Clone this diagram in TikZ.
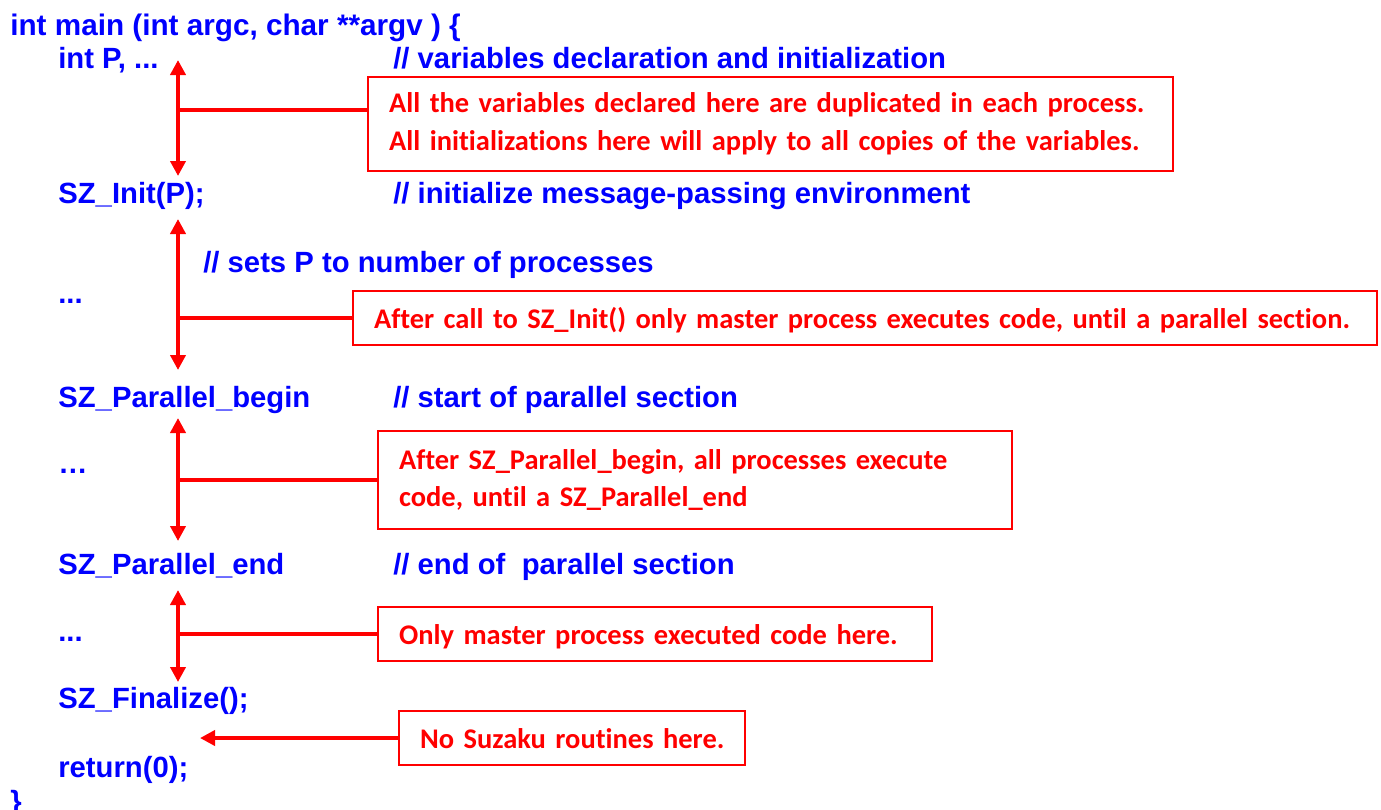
\documentclass[tikz,border=0pt]{standalone}
\usepackage{fontspec}
\setmainfont{Liberation Sans}
\newfontfamily\notefont[Ligatures=NoCommon]{Carlito}
\usetikzlibrary{arrows.meta, positioning}
\definecolor{codeblue}{RGB}{0,0,255}
\definecolor{notered}{RGB}{255,0,0}
\tikzset{
  code/.style={anchor=base west, inner sep=0pt, text=codeblue, font=\fontsize{16.65}{19}\selectfont\bfseries},
  note/.style={draw=notered, line width=1.2pt, text=notered, font=\notefont\fontsize{16.2}{21.4}\selectfont\bfseries,
    align=left, inner xsep=0.42cm, inner ysep=0pt, anchor=west},
  oneline/.style={note, text depth=0pt},
  span/.style={notered, line width=2.2pt, {Triangle[width=0.3cm,length=0.3cm]}-{Triangle[width=0.3cm,length=0.3cm]}},
  link/.style={notered, line width=2.2pt},
}

\begin{document}
\begin{tikzpicture}[x=0.02cm, y=-0.02cm]
  \useasboundingbox (0,0) rectangle (1381,809);
  % code lines
  \node[code, font=\fontsize{16.9}{19}\selectfont\bfseries] (main) at (10,35) {int main (int argc, char **argv ) \{};
  \node[code] (decl) at (58,68) {int P, ...};
  \node[code] (c1) at (393,68) {// variables declaration and initialization};
  \node[code] (init) at (58,203) {SZ\_Init(P);};
  \node[code] (c2) at (393,203) {// initialize message-passing environment};
  \node[code] (c3) at (203,272) {// sets P to number of processes};
  \node[code] (dots1) at (58,303) {...};
  \node[code] (pbeg) at (58,407) {SZ\_Parallel\_begin};
  \node[code] (c4) at (393,407) {// start of parallel section};
  \node[code] (dots2) at (58,473) {…};
  \node[code] (pend) at (58,574) {SZ\_Parallel\_end};
  \node[code] (c5) at (393,574) {// end of~ parallel section};
  \node[code] (dots3) at (58,641) {...};
  \node[code] (fin) at (58,708) {SZ\_Finalize();};
  \node[code] (ret) at (58,777) {return(0);};
  \node[code] (close) at (10,811) {\}};

  % notes
  \node[note, text width=15.26cm, minimum height=1.88cm] (n1) at (367,124)
    {\mbox{All the variables declared here are duplicated in each process.}\\
     \mbox{All initializations here will apply to all copies of the variables.}};
  \node[oneline, text width=19.64cm, minimum height=1.08cm] (n2) at (352,318)
    {\mbox{After call to SZ\_Init() only master process executes code, until a parallel section.}};
  \node[note, text width=11.84cm, minimum height=1.96cm] (n3) at (377,480)
    {\mbox{After SZ\_Parallel\_begin, all processes execute}\\
     \mbox{code, until a SZ\_Parallel\_end}};
  \node[oneline, text width=10.24cm, minimum height=1.08cm] (n4) at (377,634)
    {\mbox{Only master process executed code here.}};
  \node[oneline, text width=6.08cm, minimum height=1.08cm] (n5) at (398,738)
    {\mbox{No Suzaku routines here.}};

  % arrows
  \coordinate (t1) at (178,60);  \coordinate (b1) at (178,176); \coordinate (j1) at (178,110);
  \coordinate (t2) at (178,219); \coordinate (b2) at (178,370);
  \coordinate (t3) at (178,418); \coordinate (b3) at (178,541);
  \coordinate (t4) at (178,590); \coordinate (b4) at (178,682);
  \coordinate (e5) at (200,738);
  \draw[span] (t1) -- (b1);
  \draw[link] (j1) -- (j1 -| n1.west);
  \draw[span] (t2) -- (b2);
  \draw[link] (n2.west) -- (n2.west -| t2);
  \draw[span] (t3) -- (b3);
  \draw[link] (n3.west) -- (n3.west -| t3);
  \draw[span] (t4) -- (b4);
  \draw[link] (n4.west) -- (n4.west -| t4);
  \draw[link, -{Triangle[width=0.3cm,length=0.3cm]}] (n5.west) -- (e5);
\end{tikzpicture}
\end{document}
